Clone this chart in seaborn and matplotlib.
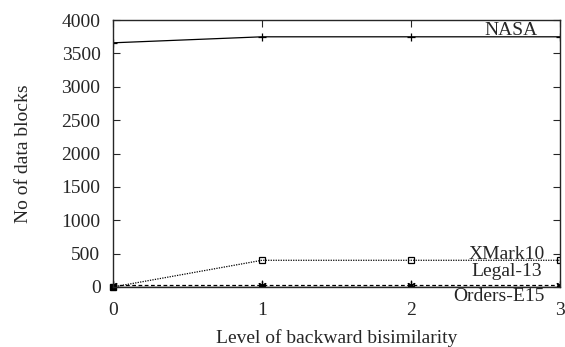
import numpy as np
import pandas as pd
import matplotlib
matplotlib.use("Agg")
import matplotlib.pyplot as plt
import seaborn as sns

# ==========================================================
# DATA
# ==========================================================

levels = [0, 1, 2, 3]
nasa = [3660, 3750, 3750, 3750]
xmark10 = [0, 400, 400, 400]
legal13 = [30, 30, 30, 30]
orders_e15 = [5, 5, 5, 5]

series_names = ["NASA", "XMark10", "Legal-13", "Orders-E15"]
label_x = [2.85, 2.90, 2.88, 2.90]
label_y = [3850, 490, 225, -150]

x_ticks = [0, 1, 2, 3]
y_ticks = [0, 500, 1000, 1500, 2000, 2500, 3000, 3500, 4000]

# ==========================================================
# PLOT
# ==========================================================

sns.set_style("ticks")
plt.rcParams["font.family"] = ["Liberation Serif", "DejaVu Serif"]

FS = 14

df = pd.DataFrame({
    "level": levels * 4,
    "blocks": nasa + xmark10 + legal13 + orders_e15,
    "series": sum([[n] * len(levels) for n in series_names], []),
})

styles = {
    "NASA": dict(ls="-", marker="+", ms=6, lw=0.9),
    "XMark10": dict(ls=(0, (1, 1)), marker="s", ms=4, lw=0.9, mfc="none"),
    "Legal-13": dict(ls=(0, (3, 2)), marker=(6, 2, 0), ms=6, lw=0.9),
    "Orders-E15": dict(ls="-", marker="s", ms=0.1, lw=1.0),
}

fig = plt.figure(figsize=(5.65, 3.47), dpi=100)
ax = fig.add_axes([0.2, 0.173, 0.791, 0.769])

for name in series_names:
    sub = df[df["series"] == name]
    st = styles[name]
    sns.lineplot(data=sub, x="level", y="blocks", ax=ax, color="black",
                 linestyle=st["ls"], marker=st["marker"], markersize=st["ms"],
                 linewidth=st["lw"], markerfacecolor=st.get("mfc", "black"),
                 markeredgecolor="black", markeredgewidth=0.9, legend=False)

# the first point sits at the origin as a filled box
ax.plot(levels[0], xmark10[0], marker="s", ms=5, color="black", clip_on=False)

for name, xv, yv in zip(series_names, label_x, label_y):
    ax.text(xv, yv, name, ha="right", va="center", fontsize=FS)

ax.set_xlim(0, 3)
ax.set_ylim(0, 4000)
ax.set_xticks(x_ticks)
ax.set_yticks(y_ticks)
ax.tick_params(direction="in", length=5, width=0.8, labelsize=FS,
               top=True, right=True)
ax.tick_params(axis="x", pad=11)
ax.tick_params(axis="y", pad=9)
for s in ax.spines.values():
    s.set_linewidth(1.0)
ax.set_xlabel("Level of backward bisimilarity", fontsize=FS, labelpad=7)
ax.set_ylabel("No of data blocks", fontsize=FS, labelpad=21)

fig.savefig("out.png", dpi=100)
